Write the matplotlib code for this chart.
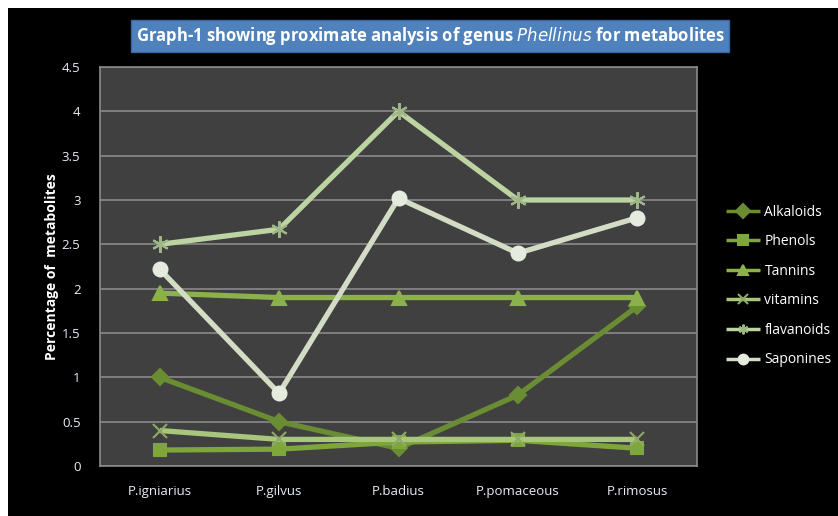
import numpy as np
import matplotlib.pyplot as plt
from matplotlib.patches import Rectangle

plt.rcParams["font.family"] = ["Open Sans", "DejaVu Sans"]

SPECIES = ["P.igniarius", "P.gilvus", "P.badius", "P.pomaceous", "P.rimosus"]
alkaloids = [1.0, 0.5, 0.2, 0.8, 1.8]
phenols = [0.18, 0.19, 0.27, 0.29, 0.2]
tannins = [1.95, 1.9, 1.9, 1.9, 1.9]
vitamins = [0.4, 0.3, 0.3, 0.3, 0.3]
flavanoids = [2.5, 2.67, 4.0, 3.0, 3.0]
saponines = [2.22, 0.82, 3.02, 2.4, 2.8]
Y_TICKS = [0, 0.5, 1, 1.5, 2, 2.5, 3, 3.5, 4, 4.5]

series = [
    ("Alkaloids", alkaloids, "#6a8c32", "D", 8, "#6a8c32"),
    ("Phenols", phenols, "#7ea63a", "s", 9, "#7ea63a"),
    ("Tannins", tannins, "#8cb04a", "^", 10, "#8cb04a"),
    ("vitamins", vitamins, "#a8c67c", "x", 10, "#8faa66"),
    ("flavanoids", flavanoids, "#bcd3a2", (6, 2, 0), 12, "#9fb787"),
    ("Saponines", saponines, "#d3ddc6", "o", 10, "#e6ebe0"),
]

fig = plt.figure(figsize=(8.38, 5.16), dpi=100, facecolor="black")
ax = fig.add_axes([100 / 838, 1 - 466 / 516, 597 / 838, 399 / 516])
ax.set_facecolor("#404040")

x = np.arange(len(SPECIES))
for name, vals, col, mk, ms, mcol in series:
    ax.plot(x, vals, color=col, lw=3.8, marker=mk, ms=ms, mfc=mcol, mec=mcol,
            mew=1.5, label=name, solid_capstyle="butt")

ax.set_xlim(-0.5, len(SPECIES) - 0.5)
ax.set_ylim(0, 4.5)
ax.set_yticks(Y_TICKS)
ax.set_yticklabels([f"{t:g}" for t in Y_TICKS])
ax.set_xticks(x)
ax.set_xticklabels(SPECIES)
ax.tick_params(colors="#e8eef8", labelsize=9.5, length=0)
ax.tick_params(axis="x", pad=14)
ax.tick_params(axis="y", pad=14)
ax.grid(axis="y", color="#8a8a8a", lw=1.2)
ax.set_axisbelow(True)
for s in ax.spines.values():
    s.set_color("#8a8a8a")
    s.set_linewidth(1.2)

ax.set_ylabel("Percentage of  metabolites", color="white", fontsize=10,
              fontweight="bold", labelpad=2)

fig.text(430 / 838, 1 - 36 / 516,
         "Graph-1 showing proximate analysis of genus $\\it{Phellinus}$ for metabolites",
         ha="center", va="center", color="white", fontsize=12, fontweight="bold",
         bbox=dict(boxstyle="square,pad=0.3", fc="#4f81bd", ec="#3a6aa0"))

leg = fig.legend(loc="upper left", bbox_to_anchor=(713 / 838, 1 - 192 / 516),
                 frameon=False, labelcolor="white", fontsize=10,
                 handlelength=2.5, labelspacing=1.05, handletextpad=0.3)
for h in leg.legend_handles:
    h.set_linewidth(2.5)
    h.set_markersize(7)

# white strips at the top and left edges
fig.add_artist(Rectangle((0, 1 - 8 / 516), 1, 8 / 516, transform=fig.transFigure,
                         fc="white", ec="none"))
fig.add_artist(Rectangle((0, 0), 8 / 838, 1, transform=fig.transFigure,
                         fc="white", ec="none"))

fig.savefig("out.png", dpi=100, facecolor="black")
plt.close()
